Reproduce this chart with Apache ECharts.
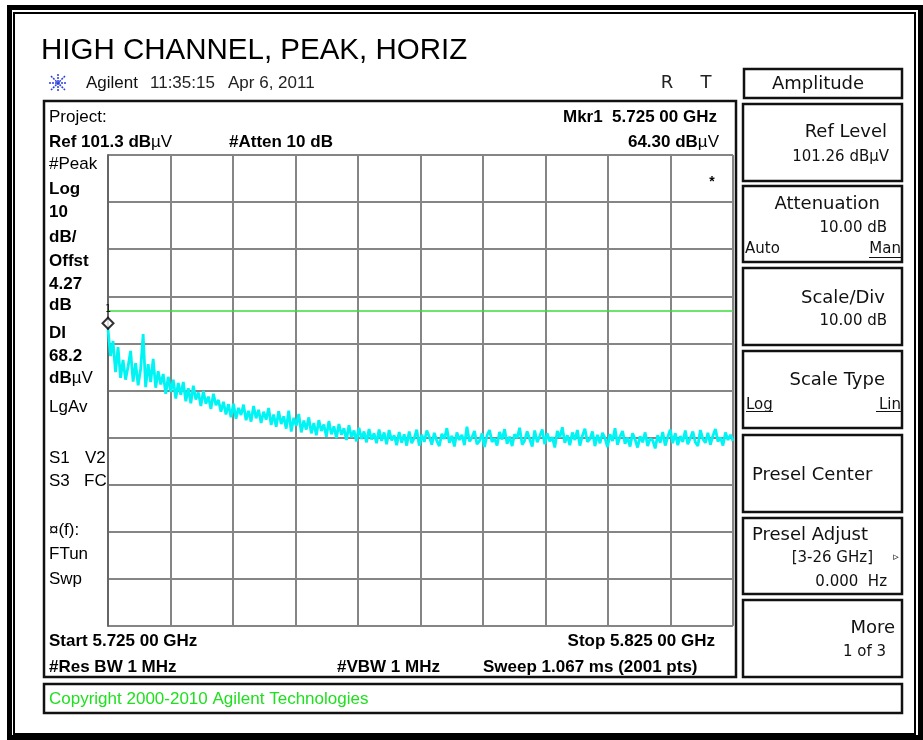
<!DOCTYPE html>
<html>
<head>
<meta charset="utf-8">
<title>HIGH CHANNEL, PEAK, HORIZ</title>
<script src="https://cdn.jsdelivr.net/npm/echarts/dist/echarts.min.js"></script>
<style>
  html, body { margin: 0; padding: 0; background: #fff; }
  #chart { width: 923px; height: 740px; }
</style>
</head>
<body>
<div id="chart"></div>
<script>
// sweep settings
var START_GHZ = 5.725
var STOP_GHZ = 5.825
var REF_LEVEL = 101.3      // top of screen, dBuV
var SCALE_DIV = 10         // dB per division
var DIVISIONS = 10
var DISPLAY_LINE = 68.2    // "DI" line
var MARKER = [5.725, 64.3] // Mkr1

// peak trace at ~2.5 px steps (dBuV)
var trace = [
  64.3, 58.6, 61.8, 55.2, 60.5, 54.0, 57.8, 53.6, 56.4, 59.7,
  53.2, 57.1, 52.4, 55.8, 63.3, 52.0, 56.9, 53.1, 58.0, 51.9,
  55.4, 52.6, 54.8, 50.6, 54.2, 51.0, 53.6, 49.6, 52.9, 50.4,
  53.1, 49.0, 51.8, 48.6, 52.3, 49.4, 50.9, 48.0, 51.2, 48.5,
  50.0, 47.4, 50.6, 48.2, 49.3, 46.8, 48.9, 46.2, 48.4, 45.6,
  48.5, 45.3, 47.6, 46.1, 48.3, 45.0, 47.0, 44.7, 48.0, 45.4,
  47.2, 44.4, 46.8, 45.1, 47.6, 44.0, 46.2, 43.6, 46.9, 44.2,
  45.8, 43.2, 47.0, 42.6, 45.5, 43.8, 46.3, 42.4, 44.9, 43.0,
  45.6, 42.2, 44.4, 41.8, 45.0, 42.7, 44.1, 41.5, 44.8, 42.0,
  43.7, 41.2, 44.2, 41.9, 43.3, 40.8, 43.9, 41.4, 42.8, 40.5,
  43.4, 41.0, 42.6, 40.3, 43.1, 40.9, 42.2, 40.1, 43.0, 40.6,
  42.4, 39.9, 42.9, 40.7, 41.8, 39.7, 42.5, 40.2, 42.0, 39.6,
  42.6, 40.1, 41.2, 43.0, 39.6, 41.9, 40.4, 42.8, 41.5, 39.8,
  42.3, 40.6, 39.5, 42.1, 41.0, 43.3, 40.2, 41.7, 39.4, 42.4,
  40.8, 41.9, 39.7, 43.6, 40.5, 41.3, 42.7, 39.9, 40.6, 42.2,
  39.3, 41.8, 42.9, 40.4, 41.1, 39.6, 42.5, 40.9, 43.1, 40.0,
  41.5, 39.5, 42.0, 41.2, 43.4, 39.8, 40.7, 42.6, 41.0, 39.4,
  42.8, 40.3, 41.6, 43.0, 39.9, 42.2, 40.5, 41.4, 39.2, 42.7,
  41.3, 43.5, 40.2, 41.8, 39.7, 42.4, 40.8, 42.9, 39.6, 41.7,
  43.2, 40.4, 41.0, 42.6, 39.5, 41.9, 40.1, 42.3, 41.2, 39.3,
  42.0, 40.6, 43.3, 39.8, 41.5, 42.7, 40.0, 41.3, 39.4, 42.2,
  40.9, 39.2, 41.6, 40.3, 42.4, 39.5, 41.1, 40.7, 39.0, 41.8,
  40.2, 42.5, 39.6, 41.4, 43.0, 40.1, 42.2, 39.7, 41.6, 40.4,
  42.8, 39.9, 41.2, 42.6, 40.3, 39.5, 42.9, 41.0, 40.2, 42.3,
  39.8, 41.7, 43.1, 40.5, 41.3, 39.6, 42.4, 40.8, 41.9, 40.6
]

var step = (STOP_GHZ - START_GHZ) / (trace.length - 1)
var traceData = trace.map(function (v, i) { return [START_GHZ + i * step, v] })

var F = '"Liberation Sans", Arial, sans-serif'
var SK = '"DejaVu Sans", sans-serif'
var REG = '17px ' + F
var BOLD = 'bold 17px ' + F

function txt (x, y, text, font, align, fill) {
  return {
    type: 'text', x: x, y: y, silent: true, z: 10,
    style: { text: text, font: font, fill: fill || '#000', textAlign: align || 'left', textVerticalAlign: 'middle' }
  }
}
// bold text followed by a regular "µV"
function unitTxt (x, y, bold, align) {
  return {
    type: 'text', x: x, y: y, silent: true, z: 10,
    style: {
      text: '{b|' + bold + '}{r|µV}',
      textAlign: align || 'left', textVerticalAlign: 'middle',
      rich: { b: { font: BOLD, fill: '#000' }, r: { font: REG, fill: '#000' } }
    }
  }
}
function box (x, y, w, h, lw, color) {
  return {
    type: 'rect', silent: true, z: 5,
    shape: { x: x, y: y, width: w, height: h },
    style: { fill: 'none', stroke: color || '#111', lineWidth: lw || 2 }
  }
}
function line (x1, y1, x2, y2, color, lw, dash) {
  return {
    type: 'line', silent: true, z: 10,
    shape: { x1: x1, y1: y1, x2: x2, y2: y2 },
    style: { stroke: color || '#000', lineWidth: lw || 1, lineDash: dash || null }
  }
}

var graphics = [
  // outer frame
  box(9.5, 7.5, 911, 730, 5, '#000'),
  box(14, 13, 901, 721, 2, '#000'),
  // screen and message bar
  box(44, 101, 692, 576, 2.5, '#111'),
  box(44, 684, 858, 29, 2.5, '#111'),
  // softkeys
  box(744, 69, 158, 29, 2.5),
  box(743, 104, 159, 77, 2.5),
  box(743, 186, 159, 76, 2.5),
  box(743, 268, 159, 77, 2.5),
  box(743, 351, 159, 77, 2.5),
  box(743, 435, 159, 77, 2.5),
  box(743, 518, 159, 76, 2.5),
  box(743, 600, 159, 77, 2.5),

  txt(41, 51, 'HIGH CHANNEL, PEAK, HORIZ', '29.5px ' + F),

  // agilent logo
  line(49, 83, 67, 83, '#2a3ee0', 1.5, [2, 1]),
  line(58, 74, 58, 92, '#2a3ee0', 1.5, [2, 1]),
  line(51, 76, 65, 90, '#2a3ee0', 1.5, [2, 1]),
  line(65, 76, 51, 90, '#2a3ee0', 1.5, [2, 1]),
  txt(86, 83, 'Agilent', '17px ' + F, 'left', '#111'),
  txt(150, 83, '11:35:15', '17px ' + F, 'left', '#222'),
  txt(228, 83, 'Apr 6, 2011', '17px ' + F, 'left', '#222'),
  txt(667, 83, 'R', '18px ' + SK, 'center', '#222'),
  txt(706, 83, 'T', '18px ' + SK, 'center', '#222'),

  // screen annotations
  txt(49, 117, 'Project:', REG),
  unitTxt(49, 142, 'Ref 101.3 dB'),
  txt(229, 142, '#Atten 10 dB', BOLD),
  txt(717, 117, 'Mkr1  5.725 00 GHz', BOLD, 'right'),
  unitTxt(719, 142, '64.30 dB', 'right'),
  txt(49, 164, '#Peak', REG),
  txt(49, 189, 'Log', BOLD),
  txt(49, 212, '10', BOLD),
  txt(49, 237, 'dB/', BOLD),
  txt(49, 261, 'Offst', BOLD),
  txt(49, 284, '4.27', BOLD),
  txt(49, 305, 'dB', BOLD),
  txt(49, 333, 'DI', BOLD),
  txt(49, 356, '68.2', BOLD),
  unitTxt(49, 378, 'dB'),
  txt(49, 407, 'LgAv', REG),
  txt(49, 458, 'S1', REG),
  txt(85, 458, 'V2', REG),
  txt(49, 481, 'S3', REG),
  txt(84, 481, 'FC', REG),
  txt(49, 530, '¤(f):', REG),
  txt(49, 554, 'FTun', REG),
  txt(49, 579, 'Swp', REG),
  txt(49, 641, 'Start 5.725 00 GHz', BOLD),
  txt(715, 641, 'Stop 5.825 00 GHz', BOLD, 'right'),
  txt(49, 667, '#Res BW 1 MHz', BOLD),
  txt(337, 667, '#VBW 1 MHz', BOLD),
  txt(483, 667, 'Sweep 1.067 ms (2001 pts)', BOLD),
  txt(712, 182, '*', 'bold 14px ' + F, 'center'),
  txt(49, 699, 'Copyright 2000-2010 Agilent Technologies', REG, 'left', '#1ee01e'),

  // softkey labels
  txt(818, 84, 'Amplitude', '18px ' + SK, 'center', '#111'),
  txt(887, 132, 'Ref Level', '18px ' + SK, 'right', '#111'),
  txt(889, 157, '101.26 dBµV', '15px ' + SK, 'right', '#111'),
  txt(880, 204, 'Attenuation', '18px ' + SK, 'right', '#111'),
  txt(887, 228, '10.00 dB', '15px ' + SK, 'right', '#111'),
  txt(745, 249, 'Auto', '15px ' + SK, 'left', '#111'),
  txt(901, 249, 'Man', '15px ' + SK, 'right', '#111'),
  line(869, 257.5, 901, 257.5, '#111', 1),
  txt(885, 298, 'Scale/Div', '18px ' + SK, 'right', '#111'),
  txt(887, 321, '10.00 dB', '15px ' + SK, 'right', '#111'),
  txt(885, 380, 'Scale Type', '18px ' + SK, 'right', '#111'),
  txt(746, 405, 'Log', '15px ' + SK, 'left', '#111'),
  line(746, 411.5, 773, 411.5, '#111', 1),
  txt(901, 405, 'Lin', '15px ' + SK, 'right', '#111'),
  line(876, 411.5, 901, 411.5, '#111', 1),
  txt(752, 475, 'Presel Center', '18px ' + SK, 'left', '#111'),
  txt(752, 535, 'Presel Adjust', '18px ' + SK, 'left', '#111'),
  txt(873, 558, '[3-26 GHz]', '15px ' + SK, 'right', '#111'),
  txt(896, 557, '▹', '11px ' + SK, 'center', '#111'),
  txt(887, 582, '0.000  Hz', '15px ' + SK, 'right', '#111'),
  txt(895, 628, 'More', '18px ' + SK, 'right', '#111'),
  txt(886, 652, '1 of 3', '15px ' + SK, 'right', '#111')
]

var divAxis = {
  type: 'value', min: 0, max: DIVISIONS, interval: 1,
  axisLabel: { show: false }, axisTick: { show: false },
  axisLine: { show: false },
  splitLine: { show: true, lineStyle: { color: '#858585', width: 2 } }
}

var chart = echarts.init(document.getElementById('chart'))
var option = {
  backgroundColor: '#fff',
  animation: false,
  grid: { left: 108, top: 155, width: 625, height: 471, containLabel: false, outerBoundsMode: 'none' },
  xAxis: [
    { type: 'value', min: START_GHZ, max: STOP_GHZ, show: false },
    Object.assign({}, divAxis, { position: 'bottom' })
  ],
  yAxis: [
    { type: 'value', min: REF_LEVEL - SCALE_DIV * DIVISIONS, max: REF_LEVEL, show: false },
    Object.assign({}, divAxis, { position: 'left', axisLine: { show: true, lineStyle: { color: '#666', width: 2 } } })
  ],
  graphic: graphics,
  series: [
    {
      type: 'line',
      xAxisIndex: 0,
      yAxisIndex: 0,
      data: traceData,
      showSymbol: false,
      lineStyle: { color: '#00f4f4', width: 2.8 },
      z: 3,
      markLine: {
        silent: true,
        symbol: 'none',
        label: { show: false },
        lineStyle: { color: '#3ddd3d', width: 1.5, type: 'solid' },
        data: [{ yAxis: DISPLAY_LINE }]
      }
    },
    {
      type: 'scatter',
      xAxisIndex: 0,
      yAxisIndex: 0,
      data: [MARKER],
      symbol: 'diamond',
      symbolSize: 11,
      symbolOffset: [0, -6],
      itemStyle: { color: '#fff', borderColor: '#000', borderWidth: 2 },
      label: { show: true, formatter: '1', position: 'top', distance: 2, color: '#000', fontSize: 10, fontFamily: 'DejaVu Sans Mono' },
      z: 5
    }
  ]
}
chart.setOption(option)
</script>
</body>
</html>
